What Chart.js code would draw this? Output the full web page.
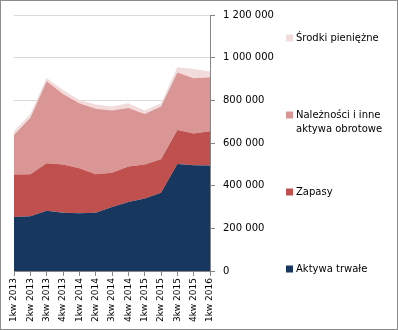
<!DOCTYPE html>
<html lang="pl">
<head>
    <meta charset="UTF-8">
    <title>Struktura aktywów</title>
    <script src="https://cdn.jsdelivr.net/npm/chart.js"></script>
    <style>
        body {
            margin: 0;
            padding: 0;
            background: #fff;
        }
        #chart-box {
            width: 398px;
            height: 330px;
            box-sizing: border-box;
            border: 1px solid #8c8c8c;
            background: #fff;
        }
        canvas {
            display: block;
        }
    </style>
</head>
<body>
    <div id="chart-box"><canvas id="chart" width="396" height="328"></canvas></div>

    <script>
        // Quarters on the x axis
        const kwartaly = [
            "1kw 2013", "2kw 2013", "3kw 2013", "4kw 2013",
            "1kw 2014", "2kw 2014", "3kw 2014", "4kw 2014",
            "1kw 2015", "2kw 2015", "3kw 2015", "4kw 2015",
            "1kw 2016"
        ];

        // Stacked components (values per quarter)
        const aktywaTrwale = [253000, 257000, 282000, 273000, 271000, 273000, 300000, 324000, 340000, 367000, 501000, 496000, 495000];
        const zapasy = [199000, 197000, 223000, 226000, 211000, 181000, 160000, 166000, 159000, 157000, 160000, 148000, 160000];
        const naleznosci = [186000, 264000, 384000, 331000, 304000, 307000, 292000, 274000, 237000, 247000, 270000, 259000, 253000];
        const srodki = [17000, 18000, 16000, 19000, 16000, 19000, 19000, 22000, 16000, 15000, 24000, 44000, 27000];

        // Right axis
        const yMax = 1200000;
        const yStep = 200000;

        const fontFamily = "'DejaVu Sans', sans-serif";

        function formatThousands(v) {
            return v.toString().replace(/\B(?=(\d{3})+(?!\d))/g, " ");
        }

        // Legend drawn at the right edge, top entry first
        const legendPlugin = {
            id: "sideLegend",
            afterDraw(chart) {
                const ctx = chart.ctx;
                const items = [
                    { ds: 3, lines: ["Środki pieniężne"], y: 37 },
                    { ds: 2, lines: ["Należności i inne", "aktywa obrotowe"], y: 114 },
                    { ds: 1, lines: ["Zapasy"], y: 191 },
                    { ds: 0, lines: ["Aktywa trwałe"], y: 268 }
                ];
                ctx.save();
                ctx.font = "10px " + fontFamily;
                ctx.textBaseline = "middle";
                ctx.textAlign = "left";
                items.forEach(function (it) {
                    const ds = chart.data.datasets[it.ds];
                    ctx.fillStyle = ds.backgroundColor;
                    ctx.fillRect(285, it.y - 3.5, 7, 7);
                    ctx.fillStyle = "#000";
                    it.lines.forEach(function (line, i) {
                        ctx.fillText(line, 295, it.y + i * 14.5);
                    });
                });
                ctx.restore();
            }
        };

        function areaSet(label, data, color, fill) {
            return {
                label: label,
                data: data,
                backgroundColor: color,
                borderColor: color,
                borderWidth: 0,
                pointRadius: 0,
                tension: 0,
                fill: fill
            };
        }

        new Chart(document.getElementById("chart").getContext("2d"), {
            type: "line",
            data: {
                labels: kwartaly,
                datasets: [
                    areaSet("Aktywa trwałe", aktywaTrwale, "#17375e", "origin"),
                    areaSet("Zapasy", zapasy, "#c0504d", "-1"),
                    areaSet("Należności i inne aktywa obrotowe", naleznosci, "#d99694", "-1"),
                    areaSet("Środki pieniężne", srodki, "#f2dcdb", "-1")
                ]
            },
            options: {
                responsive: false,
                animation: false,
                layout: {
                    padding: { left: 13, top: 13, right: 0, bottom: 0 }
                },
                plugins: {
                    legend: { display: false },
                    tooltip: { enabled: false }
                },
                scales: {
                    x: {
                        offset: false,
                        grid: {
                            drawOnChartArea: false,
                            drawTicks: true,
                            tickLength: 5,
                            tickColor: "#868686"
                        },
                        border: { color: "#868686" },
                        ticks: {
                            autoSkip: false,
                            minRotation: 90,
                            maxRotation: 90,
                            padding: 2,
                            color: "#000",
                            font: { family: fontFamily, size: 9 }
                        },
                        afterFit(scale) {
                            scale.height = 58;
                        }
                    },
                    y: {
                        position: "right",
                        stacked: true,
                        min: 0,
                        max: yMax,
                        grid: {
                            color: "#d9d9d9",
                            tickColor: "#868686",
                            tickLength: 5
                        },
                        border: { color: "#868686" },
                        ticks: {
                            stepSize: yStep,
                            padding: 8,
                            color: "#000",
                            font: { family: fontFamily, size: 10 },
                            callback: function (v) {
                                return formatThousands(v);
                            }
                        },
                        afterFit(scale) {
                            scale.width = 187;
                        }
                    }
                }
            },
            plugins: [legendPlugin]
        });
    </script>
</body>
</html>
